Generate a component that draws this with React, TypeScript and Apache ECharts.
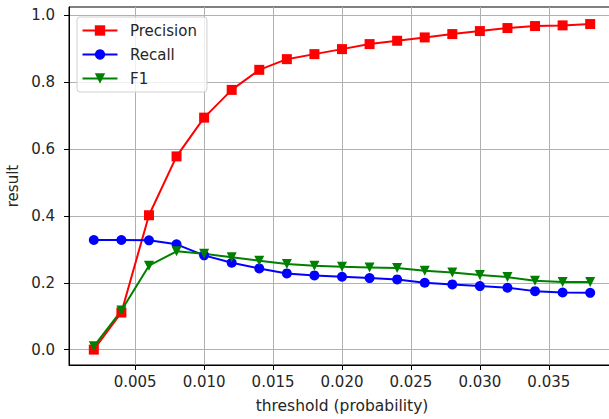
import React, { useEffect, useRef } from "react";
import * as echarts from "echarts";

const thresholds = [0.002, 0.004, 0.006, 0.008, 0.010, 0.012, 0.014, 0.016, 0.018, 0.020, 0.022, 0.024, 0.026, 0.028, 0.030, 0.032, 0.034, 0.036, 0.038];
const precision = [0.0, 0.111, 0.402, 0.578, 0.694, 0.777, 0.837, 0.869, 0.884, 0.899, 0.914, 0.924, 0.934, 0.944, 0.953, 0.962, 0.968, 0.970, 0.974];
const recall = [0.328, 0.328, 0.327, 0.315, 0.282, 0.260, 0.243, 0.228, 0.222, 0.218, 0.214, 0.210, 0.200, 0.195, 0.190, 0.185, 0.175, 0.171, 0.170];
const f1 = [0.010, 0.117, 0.251, 0.294, 0.287, 0.276, 0.266, 0.256, 0.251, 0.248, 0.246, 0.244, 0.236, 0.231, 0.223, 0.217, 0.206, 0.202, 0.202];
const xTicks = [0.005, 0.010, 0.015, 0.020, 0.025, 0.030, 0.035];
const yTicks = [0.0, 0.2, 0.4, 0.6, 0.8, 1.0];

const FONT = "DejaVu Sans";
const TEXT = "#262626";

export default function App() {
  const ref = useRef<HTMLDivElement>(null);
  useEffect(() => {
    const chart = echarts.init(ref.current!, null, { renderer: "svg" });
    const mk = (name: string, vals: number[], color: string, symbol: string, rotate = 0) => ({
      name,
      type: "line",
      data: thresholds.map((t, i) => [t, vals[i]]),
      symbol,
      symbolSize: 10,
      symbolRotate: rotate,
      showAllSymbol: true,
      lineStyle: { color, width: 2 },
      itemStyle: { color },
      emphasis: { disabled: true },
    });
    chart.setOption({
      animation: false,
      textStyle: { fontFamily: FONT },
      grid: { left: 69, right: -6, top: 7, bottom: 54, show: true, borderColor: "#000", borderWidth: 1, backgroundColor: "transparent", outerBoundsMode: "none" },
      legend: {
        orient: "vertical",
        left: 77,
        top: 17,
        padding: [6, 10, 6, 4.5],
        itemWidth: 35,
        itemHeight: 13,
        itemGap: 9,
        backgroundColor: "rgba(255,255,255,0.8)",
        borderColor: "#d0d0d0",
        borderWidth: 1,
        borderRadius: 3,
        textStyle: { fontFamily: FONT, fontSize: 15, color: TEXT, padding: [0, 0, 0, 7.5], lineHeight: 13 },
        data: ["Precision", "Recall", "F1"],
      },
      xAxis: {
        type: "value",
        min: 0.0002,
        max: 0.0398,
        minInterval: 0.005,
        maxInterval: 0.005,
        name: "threshold (probability)",
        nameLocation: "middle",
        nameGap: 33,
        nameTextStyle: { fontFamily: FONT, fontSize: 15.5, color: TEXT },
        axisLine: { show: true, onZero: false, lineStyle: { color: "#000", width: 1 } },
        axisTick: { show: true, length: 5, lineStyle: { color: "#000" }, customValues: xTicks },
        axisLabel: { fontFamily: FONT, fontSize: 15, color: TEXT, margin: 9, customValues: xTicks, formatter: (v: number) => v.toFixed(3) },
        splitLine: { show: true, lineStyle: { color: "#b0b0b0", width: 1 } },
      },
      yAxis: {
        type: "value",
        min: -0.046,
        max: 1.025,
        minInterval: 0.2,
        maxInterval: 0.2,
        name: "result",
        nameLocation: "middle",
        nameGap: 46,
        nameTextStyle: { fontFamily: FONT, fontSize: 15, color: TEXT },
        axisLine: { show: true, onZero: false, lineStyle: { color: "#000", width: 1 } },
        axisTick: { show: true, length: 5, lineStyle: { color: "#000" }, customValues: yTicks },
        axisLabel: { fontFamily: FONT, fontSize: 15, color: TEXT, margin: 14, customValues: yTicks, formatter: (v: number) => v.toFixed(1) },
        splitLine: { show: true, lineStyle: { color: "#b0b0b0", width: 1 } },
      },
      series: [
        mk("Precision", precision, "#ff0000", "rect"),
        mk("Recall", recall, "#0000ff", "circle"),
        mk("F1", f1, "#008000", "triangle", 180),
      ],
    });
    return () => chart.dispose();
  }, []);
  return <div ref={ref} style={{ position: "fixed", left: 0, top: 0, width: 609, height: 419, background: "#fff" }} />;
}
